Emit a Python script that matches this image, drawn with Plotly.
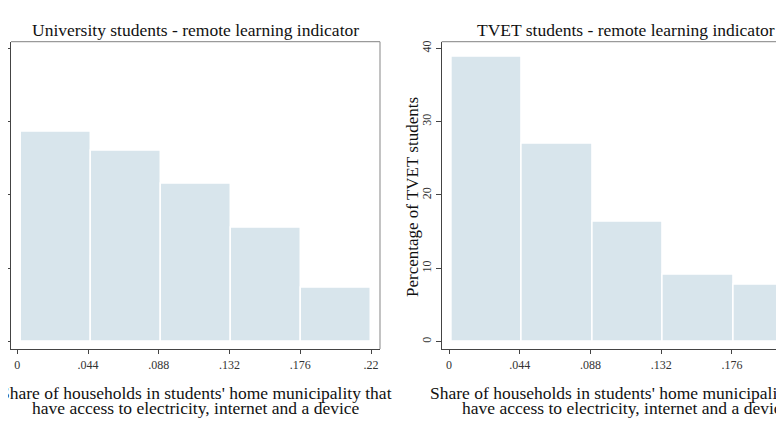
import plotly.graph_objects as go

# histogram bins (left edge of each bin) and percentage of students per bin
uni_bin_left = [0.0025, 0.046, 0.0895, 0.133, 0.1765]
uni_bin_width = 0.0435
uni_pct = [28.6, 26.0, 21.5, 15.6, 7.3]

tvet_bin_left = [0.0015, 0.0454, 0.0893, 0.1332, 0.1771]
tvet_bin_width = 0.0439
tvet_pct = [38.8, 27.0, 16.4, 9.1, 7.7]

x_ticks = [0, 0.044, 0.088, 0.132, 0.176, 0.22]
x_tick_text = ["0", ".044", ".088", ".132", ".176", ".22"]
y_ticks = [0, 10, 20, 30, 40]

x_title_1 = "Share of households in students' home municipality that"
x_title_2 = "have access to electricity, internet and a device"

# the page puts the figure 8px in from the top-left corner of the window
OFF = 8
W, H = 784 - OFF, 441 - OFF
FONT = "Liberation Serif"
BAR = "#d8e5ec"
AXIS = "#444444"
FRAME = "#9a9a9a"
TXT = "#111111"


def px(x):
    return (x - OFF) / W


def py(y):
    return (H - (y - OFF)) / H


fig = go.Figure()

fig.add_trace(go.Bar(
    x=[l + uni_bin_width / 2 for l in uni_bin_left], y=uni_pct,
    width=uni_bin_width, marker=dict(color=BAR, line=dict(color="white", width=1.5)),
    xaxis="x", yaxis="y", showlegend=False,
))
fig.add_trace(go.Bar(
    x=[l + tvet_bin_width / 2 for l in tvet_bin_left], y=tvet_pct,
    width=tvet_bin_width, marker=dict(color=BAR, line=dict(color="white", width=1.5)),
    xaxis="x2", yaxis="y2", showlegend=False,
))

y_dom = [py(349), py(41.7)]
px_per_unit = 1607.7


def xaxis_common(domain, rng, anchor):
    return dict(
        domain=domain, range=rng, anchor=anchor, tickvals=x_ticks, ticktext=x_tick_text,
        ticks="outside", ticklen=4, tickcolor=AXIS, showline=True, linecolor=AXIS,
        linewidth=1.2, showgrid=False, zeroline=False, automargin=False,
        tickfont=dict(family=FONT, size=12, color="#333"),
    )


def yaxis_common(anchor):
    return dict(
        domain=y_dom, range=[-1.0, 40.9], tickvals=y_ticks, anchor=anchor,
        ticks="outside", ticklen=5, tickcolor=AXIS, tickangle=-90,
        showline=True, linecolor=AXIS, linewidth=1.2, showgrid=False, zeroline=False,
        automargin=False, tickfont=dict(family=FONT, size=12, color="#333"),
    )


fig.update_layout(
    width=W, height=H,
    margin=dict(l=0, r=0, t=0, b=0, autoexpand=False),
    paper_bgcolor="white", plot_bgcolor="white",
    bargap=0,
    xaxis=xaxis_common([px(11), px(380)], [(11 - 17.3) / px_per_unit, 0.22 + 9 / px_per_unit], "y"),
    yaxis=yaxis_common("x"),
    xaxis2=xaxis_common([px(441.7), 1.0], [(441.7 - 449) / px_per_unit, (784 - 449) / px_per_unit], "y2"),
    yaxis2=yaxis_common("x2"),
)

# frame lines on top / right of the plot regions
fig.add_shape(type="line", xref="paper", yref="paper", x0=px(11), x1=px(380), y0=y_dom[1], y1=y_dom[1],
              line=dict(color=FRAME, width=1.2))
fig.add_shape(type="line", xref="paper", yref="paper", x0=px(380), x1=px(380), y0=y_dom[0], y1=y_dom[1],
              line=dict(color=FRAME, width=1.2))
fig.add_shape(type="line", xref="paper", yref="paper", x0=px(441.7), x1=1.0, y0=y_dom[1], y1=y_dom[1],
              line=dict(color=FRAME, width=1.2))


def text(s, x, y, size=17.5, angle=0):
    fig.add_annotation(text=s, xref="paper", yref="paper", x=px(x), y=py(y),
                       xanchor="center", yanchor="middle", showarrow=False, textangle=angle,
                       font=dict(family=FONT, size=size, color=TXT))


# panel titles
text("University students - remote learning indicator", 195.5, 30)
text("TVET students - remote learning indicator", 626, 30)

# x axis titles (two lines each)
for cx in (195.5, 626):
    text(x_title_1, cx, 393)
    text(x_title_2, cx, 408)

# y axis title of the right panel
text("Percentage of TVET students", 413, 197, size=17, angle=-90)

fig.write_html("out.html")
